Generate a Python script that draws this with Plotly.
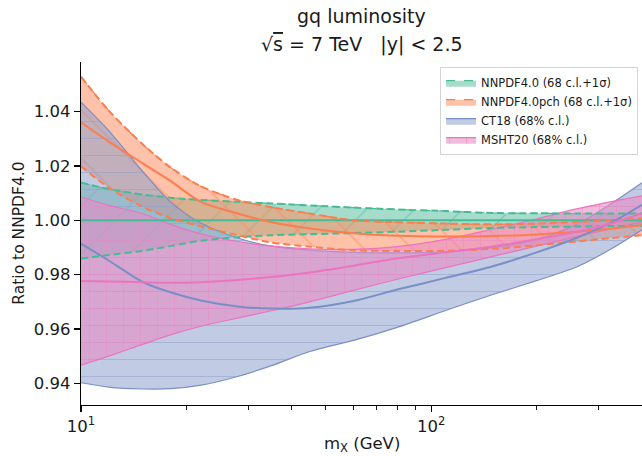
import math
import plotly.graph_objects as go

# ---------------- data ----------------
mx = [10, 12, 15, 18, 22, 28, 35, 45, 60, 80, 110, 150, 200, 260, 330, 400]

nn_c = [1.0, 1.0, 1.0, 1.0, 1.0, 1.0, 1.0, 1.0, 1.0, 1.0, 1.0, 1.0, 1.0, 1.0, 1.0, 1.0]
nn_hi = [1.0139, 1.0115, 1.0095, 1.0083, 1.0075, 1.0068, 1.0062, 1.0055, 1.0047, 1.0040,
         1.0034, 1.0027, 1.0026, 1.0025, 1.0025, 1.0025]
nn_lo = [0.9859, 0.9872, 0.9888, 0.9905, 0.9925, 0.9938, 0.9945, 0.9949, 0.9953, 0.9958,
         0.9965, 0.9972, 0.9975, 0.9977, 0.9979, 0.9980]

pch_c = [1.0361, 1.0290, 1.0210, 1.0145, 1.0068, 1.0025, 0.9993, 0.9970, 0.9952, 0.9943,
         0.9940, 0.9942, 0.9948, 0.9958, 0.9970, 0.9982]
pch_hi = [1.0529, 1.0404, 1.0280, 1.0195, 1.0125, 1.0075, 1.0048, 1.0025, 1.0000, 0.9993,
          0.9988, 0.9985, 0.9988, 0.9994, 1.0001, 1.0007]
pch_lo = [1.0199, 1.0120, 1.0050, 1.0008, 0.9978, 0.9945, 0.9918, 0.9903, 0.9890, 0.9887,
          0.9888, 0.9895, 0.9908, 0.9922, 0.9935, 0.9945]

ct_c = [0.9914, 0.9852, 0.9773, 0.9735, 0.9705, 0.9683, 0.9675, 0.9678, 0.9703, 0.9745,
        0.9788, 0.9831, 0.9882, 0.9935, 0.9995, 1.0057]
ct_hi = [1.0435, 1.0330, 1.0180, 1.0068, 0.9990, 0.9935, 0.9905, 0.9890, 0.9882, 0.9880,
         0.9885, 0.9900, 0.9930, 0.9985, 1.0065, 1.0138]
ct_lo = [0.9402, 0.9386, 0.9379, 0.9380, 0.9393, 0.9425, 0.9465, 0.9517, 0.9558, 0.9606,
         0.9668, 0.9727, 0.9778, 0.9828, 0.9898, 0.9965]

ms_c = [0.9777, 0.9775, 0.9772, 0.9770, 0.9772, 0.9780, 0.9791, 0.9808, 0.9833, 0.9860,
        0.9882, 0.9904, 0.9930, 0.9958, 0.9990, 1.0025]
ms_hi = [1.0086, 1.0055, 1.0025, 0.9985, 0.9950, 0.9922, 0.9905, 0.9895, 0.9893, 0.9903,
         0.9930, 0.9968, 1.0005, 1.0042, 1.0070, 1.0090]
ms_lo = [0.9467, 0.9500, 0.9543, 0.9578, 0.9610, 0.9640, 0.9667, 0.9700, 0.9742, 0.9783,
         0.9826, 0.9867, 0.9905, 0.9940, 0.9970, 0.9995]

names = ["NNPDF4.0 (68 c.l.+1σ)", "NNPDF4.0pch (68 c.l.+1σ)", "CT18 (68% c.l.)", "MSHT20 (68% c.l.)"]
y_ticks = [0.94, 0.96, 0.98, 1.00, 1.02, 1.04]
x_major = [10, 100]
x_major_text = ["10<sup>1</sup>", "10<sup>2</sup>"]
x_minor = [20, 30, 40, 50, 60, 70, 80, 90, 200, 300, 400]

# ---------------- styles ----------------
GREEN = (102, 194, 165)
ORANGE = (252, 141, 98)
BLUE = (141, 160, 203)
PINK = (231, 138, 195)
L_GREEN = "rgb(70,188,148)"
L_ORANGE = "rgb(250,126,78)"
L_BLUE = "rgb(122,143,198)"
L_PINK = "rgb(236,116,190)"


def rgba(c, a):
    return "rgba(%d,%d,%d,%.3f)" % (c[0], c[1], c[2], a)


FONT = "DejaVu Sans"
DASH = "7px,4px"

fig = go.Figure()

bands = [
    (names[0], nn_lo, nn_hi, GREEN, 0.58, "/", 34, 0.05, L_GREEN, 0),
    (names[1], pch_lo, pch_hi, ORANGE, 0.55, "\\", 34, 0.05, L_ORANGE, 0),
    (names[2], ct_lo, ct_hi, BLUE, 0.55, "-", 17, 0.06, L_BLUE, 1.2),
    (names[3], ms_lo, ms_hi, PINK, 0.58, "+", 17, 0.11, L_PINK, 1.2),
]

for name, lo, hi, col, alpha, shp, size, sol, lcol, ew in bands:
    fig.add_trace(go.Scatter(
        x=mx, y=lo, mode="lines",
        line=dict(width=ew, color=lcol, shape="spline", smoothing=0.8),
        showlegend=False, hoverinfo="skip"))
    fig.add_trace(go.Scatter(
        x=mx, y=hi, mode="lines", fill="tonexty",
        fillcolor=rgba(col, alpha),
        fillpattern=dict(shape=shp, size=size, solidity=sol,
                         fgcolor="rgb(%d,%d,%d)" % col, fgopacity=0.55,
                         bgcolor=rgba(col, alpha)),
        line=dict(width=(ew if ew else 1.2), color=lcol, shape="spline", smoothing=0.8,
                  dash=("solid" if ew else "dash")),
        name=name, hoverinfo="skip"))

# lines on top of the fills
line_specs = [
    (nn_hi, L_GREEN, DASH), (nn_lo, L_GREEN, DASH), (nn_c, L_GREEN, "solid"),
    (pch_hi, L_ORANGE, DASH), (pch_lo, L_ORANGE, DASH), (pch_c, L_ORANGE, "solid"),
    (ct_c, L_BLUE, "solid"), (ms_c, L_PINK, "solid"),
]
for ys, col, dash in line_specs:
    fig.add_trace(go.Scatter(
        x=mx, y=ys, mode="lines",
        line=dict(width=2, color=col, dash=dash, shape="spline", smoothing=0.8),
        showlegend=False, hoverinfo="skip"))

fig.update_layout(
    width=642, height=456,
    margin=dict(l=81, r=0, t=62, b=51),
    paper_bgcolor="white", plot_bgcolor="white",
    font=dict(family=FONT, color="#1a1a1a"),
    showlegend=True,
    legend=dict(x=0.993, y=0.985, xanchor="right", yanchor="top",
                traceorder="normal",
                bgcolor="rgba(255,255,255,0.85)", bordercolor="#d4d4d4", borderwidth=1,
                font=dict(size=11.5, family=FONT), tracegroupgap=0,
                itemwidth=30),
    xaxis=dict(type="log", range=[1, math.log10(400)],
               showline=True, linecolor="black", linewidth=1.1,
               ticks="outside", ticklen=6, tickwidth=1.1, tickcolor="black",
               tickvals=x_major, ticktext=x_major_text,
               tickfont=dict(size=16.5, family=FONT),
               minor=dict(tickmode="array", tickvals=x_minor, ticks="outside",
                          ticklen=3.5, tickwidth=0.9, tickcolor="black"),
               showgrid=False, zeroline=False),
    yaxis=dict(range=[0.932, 1.0583],
               showline=True, linecolor="black", linewidth=1.1,
               ticks="outside", ticklen=6, tickwidth=1.1, tickcolor="black",
               tickvals=y_ticks, ticktext=["%.2f" % v for v in y_ticks],
               tickfont=dict(size=16.5, family=FONT),
               showgrid=False, zeroline=False),
    annotations=[
        dict(text="gq luminosity", xref="paper", yref="paper", x=0.5, y=1.133,
             xanchor="center", yanchor="middle", showarrow=False,
             font=dict(size=19, family=FONT)),
        dict(text="√<span style='text-decoration:overline'>s</span> = 7 TeV   |y| < 2.5",
             xref="paper", yref="paper", x=0.5, y=1.05,
             xanchor="center", yanchor="middle", showarrow=False,
             font=dict(size=19, family=FONT)),
        dict(text="m<sub>X</sub> (GeV)", xref="paper", yref="paper", x=0.5, y=-0.116,
             xanchor="center", yanchor="middle", showarrow=False,
             font=dict(size=16.5, family=FONT)),
        dict(text="Ratio to NNPDF4.0", xref="paper", yref="paper", x=-0.112, y=0.5,
             xanchor="center", yanchor="middle", showarrow=False, textangle=-90,
             font=dict(size=15.5, family=FONT)),
    ],
)

fig.write_html("out.html",
               config={"displayModeBar": False, "staticPlot": True},
               post_script="document.body.style.margin='0px';document.body.style.overflow='hidden';")
